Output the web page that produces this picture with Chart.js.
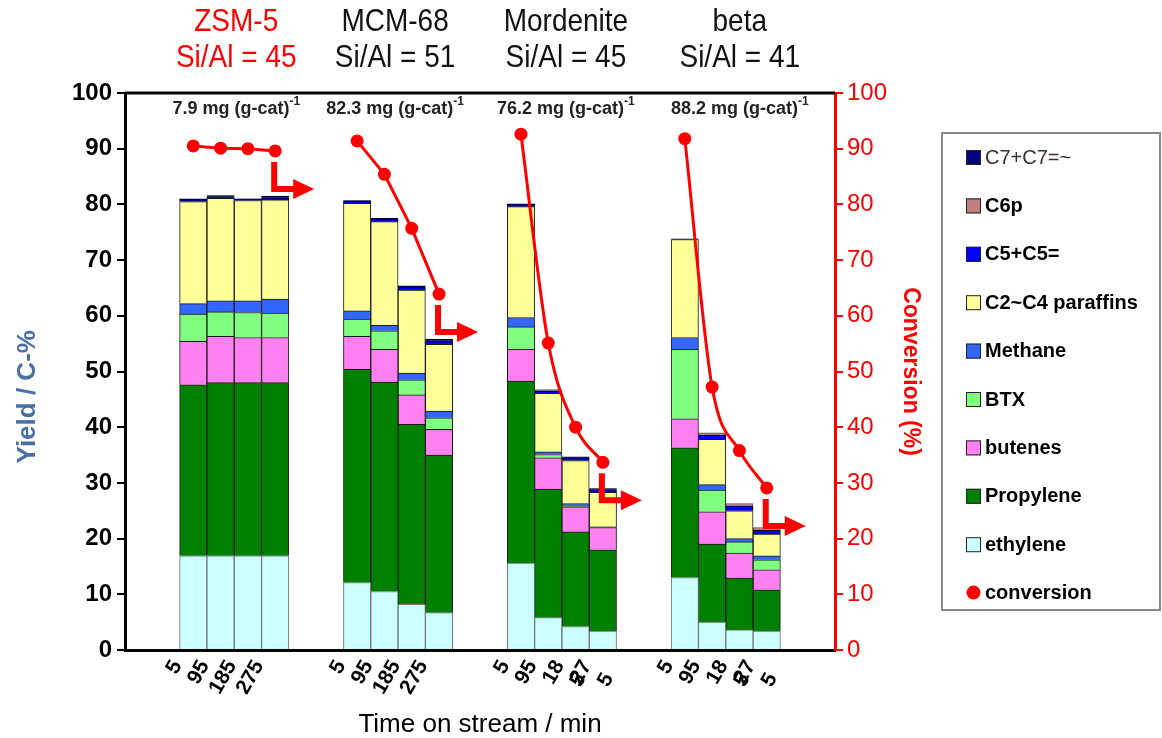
<!DOCTYPE html>
<html>
<head>
<meta charset="utf-8">
<title>Yield and conversion vs time on stream</title>
<script src="https://cdn.jsdelivr.net/npm/chart.js@4.4.0/dist/chart.umd.min.js"></script>
<style>
  html, body { margin: 0; padding: 0; background: #fff; }
</style>
</head>
<body>
<canvas id="chartYield" width="1162" height="738"></canvas>
<script>
const catalysts = ['ZSM-5', 'MCM-68', 'Mordenite', 'beta'];
const siAl = ['Si/Al = 45', 'Si/Al = 51', 'Si/Al = 45', 'Si/Al = 41'];
const coke = ['7.9', '82.3', '76.2', '88.2'];
const timeLabels = [
  ['5', '95', '185', '275'],
  ['5', '95', '185', '275'],
  ['5', '95', ['18', '5'], ['27', '5']],
  ['5', '95', ['18', '5'], ['27', '5']]
];

// yield of each product (C-%), 4 times on stream per catalyst: ZSM-5, MCM-68, Mordenite, beta
const ethylene  = [16.9, 16.9, 16.9, 16.9,  12.1, 10.5, 8.2, 6.7,   15.6, 5.8, 4.2, 3.4,    13.0, 5.0, 3.6, 3.4];
const propylene = [30.7, 31.1, 31.1, 31.1,  38.3, 37.6, 32.3, 28.3, 32.7, 23.1, 17.0, 14.6, 23.3, 14.0, 9.3, 7.4];
const butenes   = [7.8, 8.3, 8.1, 8.1,      5.9, 5.9, 5.3, 4.6,     5.7, 5.6, 4.5, 4.0,     5.2, 5.8, 4.5, 3.6];
const btx       = [4.9, 4.4, 4.5, 4.4,      3.1, 3.3, 2.7, 2.1,     4.0, 0.6, 0.1, 0,       12.5, 3.9, 2.0, 1.8];
const methane   = [1.9, 2.0, 2.1, 2.5,      1.5, 1.0, 1.2, 1.2,     1.7, 0.5, 0.5, 0.1,     2.1, 1.0, 0.6, 0.7];
const paraffins = [18.3, 18.4, 18.0, 17.8,  19.3, 18.6, 14.9, 12.0, 19.9, 10.5, 7.7, 6.2,   17.6, 8.1, 5.0, 3.9];
const c5        = [0.3, 0.3, 0.2, 0.4,      0.3, 0.4, 0.5, 0.6,     0.3, 0.4, 0.5, 0.5,     0, 0.8, 0.9, 0.7];
const c6p       = [0, 0, 0, 0,              0, 0, 0, 0,             0, 0.1, 0, 0,           0, 0.4, 0.4, 0.5];
const c7        = [0.2, 0.2, 0.1, 0.3,      0.2, 0.2, 0.3, 0.3,     0.2, 0.1, 0.2, 0.2,     0.1, 0, 0, 0];

// conversion (%), right axis
const conversion = [90.5, 90.1, 90.0, 89.6, 91.4, 85.4, 75.7, 63.9, 92.6, 55.1, 40.0, 33.7, 91.8, 47.2, 35.8, 29.1];

// category slots: two empty slots before each catalyst and after the last one
const labels = ['', ''];
const slotOf = [];
timeLabels.forEach(grp => {
  grp.forEach(t => { slotOf.push(labels.length); labels.push(t); });
  labels.push('', '');
});

function spread(values, groups) {
  const out = labels.map(() => null);
  values.forEach((v, i) => {
    const g = Math.floor(i / 4);
    if (groups && !groups.includes(g)) return;
    out[slotOf[i]] = v === 0 ? null : v;
  });
  return out;
}

const products = [
  { label: 'ethylene',        data: ethylene,  color: '#ccffff', edge: '#707070' },
  { label: 'Propylene',       data: propylene, color: '#008000', edge: '#1a1a1a' },
  { label: 'butenes',         data: butenes,   color: '#ff80f0', edge: '#1a1a1a' },
  { label: 'BTX',             data: btx,       color: '#80ff80', edge: '#1a1a1a' },
  { label: 'Methane',         data: methane,   color: '#3366ff', edge: '#1a1a1a' },
  { label: 'C2~C4 paraffins', data: paraffins, color: '#ffff99', edge: '#1a1a1a' },
  { label: 'C5+C5=',          data: c5,        color: '#0000ff', edge: '#000000' },
  { label: 'C6p',             data: c6p,       color: '#c08080', edge: '#555555' },
  { label: 'C7+C7=~',         data: c7,        color: '#000080', edge: '#000000' }
];

const barSets = products.map(p => ({
  type: 'bar',
  label: p.label,
  data: spread(p.data),
  backgroundColor: p.color,
  borderColor: p.edge,
  borderWidth: 1,
  stack: 'yield',
  yAxisID: 'y',
  order: 1,
  barPercentage: 1,
  categoryPercentage: 1
}));

const lineBase = {
  type: 'line',
  label: 'conversion',
  yAxisID: 'y2',
  borderColor: '#ff0000',
  backgroundColor: '#ff0000',
  borderWidth: 3,
  pointRadius: 6.5,
  pointBorderWidth: 0,
  order: 0
};
const lineStraight = Object.assign({}, lineBase, { data: spread(conversion, [0, 1]), tension: 0 });
const lineCurved = Object.assign({}, lineBase, { data: spread(conversion, [2, 3]), cubicInterpolationMode: 'monotone' });

const FONT = "'Liberation Sans', Arial, sans-serif";
Chart.defaults.font.family = FONT;

// header text, slightly stretched vertically
function tallText(ctx, text, x, y, sy) {
  ctx.save();
  ctx.translate(x, y);
  ctx.scale(1, sy);
  ctx.fillText(text, 0, 0);
  ctx.restore();
}

// headers, coke amounts, arrows and legend box
const decorations = {
  id: 'decorations',
  afterDraw(chart) {
    const ctx = chart.ctx;
    const area = chart.chartArea;
    const xs = chart.scales.x;
    const nudge = [2, -3, 4, 14];
    ctx.save();

    // top frame line
    ctx.strokeStyle = '#000';
    ctx.lineWidth = 3;
    ctx.beginPath();
    ctx.moveTo(area.left, area.top);
    ctx.lineTo(area.right, area.top);
    ctx.stroke();

    catalysts.forEach((name, g) => {
      const cx = (xs.getPixelForValue(slotOf[g * 4 + 1]) + xs.getPixelForValue(slotOf[g * 4 + 2])) / 2 + nudge[g];
      ctx.fillStyle = g === 0 ? '#ff0000' : '#111';
      ctx.font = '28px ' + FONT;
      ctx.textAlign = 'center';
      ctx.textBaseline = 'middle';
      tallText(ctx, name, cx, 22, 1.12);
      tallText(ctx, siAl[g], cx, 58, 1.12);

      // coke amount with superscript
      const main = coke[g] + ' mg (g-cat)';
      ctx.font = 'bold 18px ' + FONT;
      const w1 = ctx.measureText(main).width;
      ctx.font = 'bold 12px ' + FONT;
      const w2 = ctx.measureText('-1').width;
      const x0 = cx - (w1 + w2) / 2;
      ctx.fillStyle = '#222';
      ctx.textAlign = 'left';
      ctx.font = 'bold 18px ' + FONT;
      ctx.fillText(main, x0, 109);
      ctx.font = 'bold 12px ' + FONT;
      ctx.fillText('-1', x0 + w1, 102);

      // arrow pointing to the conversion axis
      const meta = chart.getDatasetMeta(g < 2 ? barSets.length : barSets.length + 1);
      const p = meta.data[slotOf[g * 4 + 3]];
      ctx.strokeStyle = '#ff0000';
      ctx.fillStyle = '#ff0000';
      ctx.lineWidth = 6;
      ctx.lineJoin = 'miter';
      ctx.beginPath();
      ctx.moveTo(p.x - 1, p.y + 11);
      ctx.lineTo(p.x - 1, p.y + 38);
      ctx.lineTo(p.x + 20, p.y + 38);
      ctx.stroke();
      ctx.beginPath();
      ctx.moveTo(p.x + 18, p.y + 28);
      ctx.lineTo(p.x + 39, p.y + 38);
      ctx.lineTo(p.x + 18, p.y + 48);
      ctx.closePath();
      ctx.fill();
    });

    // legend
    ctx.strokeStyle = '#8a8a8a';
    ctx.lineWidth = 2;
    ctx.strokeRect(942, 133, 218, 477);
    const items = products.slice().reverse();
    items.forEach((p, i) => {
      const y = 157 + i * 48.4;
      ctx.fillStyle = p.color;
      ctx.fillRect(966, y - 7, 15, 15);
      ctx.strokeStyle = '#222';
      ctx.lineWidth = 1;
      ctx.strokeRect(966.5, y - 6.5, 14, 14);
      ctx.fillStyle = i === 0 ? '#3a2f2a' : '#000';
      ctx.font = (i === 0 ? '' : 'bold ') + '20px ' + FONT;
      ctx.textAlign = 'left';
      ctx.textBaseline = 'middle';
      ctx.fillText(p.label, 985, y + 1);
    });
    const yc = 157 + items.length * 48.4;
    ctx.fillStyle = '#ff0000';
    ctx.beginPath();
    ctx.arc(973.5, yc, 7, 0, Math.PI * 2);
    ctx.fill();
    ctx.fillStyle = '#000';
    ctx.font = 'bold 20px ' + FONT;
    ctx.fillText('conversion', 985, yc + 1);

    ctx.restore();
  }
};

new Chart(document.getElementById('chartYield'), {
  data: {
    labels: labels,
    datasets: [...barSets, lineStraight, lineCurved]
  },
  options: {
    responsive: false,
    animation: false,
    layout: { padding: { top: 93, right: 227, bottom: 0, left: 0 } },
    plugins: {
      legend: { display: false },
      tooltip: { enabled: false }
    },
    scales: {
      x: {
        stacked: true,
        grid: { display: false, drawTicks: false },
        border: { display: true, color: '#000', width: 3 },
        ticks: {
          autoSkip: false,
          minRotation: 60,
          maxRotation: 60,
          labelOffset: -16,
          padding: 6,
          color: '#000',
          font: { size: 21, weight: 'bold' }
        },
        title: {
          display: true,
          text: 'Time on stream / min',
          color: '#000',
          font: { size: 26, lineHeight: 1 },
          padding: 0
        },
        afterFit(scale) { scale.height = 88; }
      },
      y: {
        stacked: true,
        min: 0,
        max: 100,
        ticks: { stepSize: 10, color: '#000', padding: 5, font: { size: 24, weight: 'bold' } },
        grid: { drawOnChartArea: false, drawTicks: true, tickLength: 8, color: '#000', lineWidth: 2 },
        border: { color: '#000', width: 3 },
        title: {
          display: true,
          text: 'Yield / C-%       ',
          color: '#4a6fa5',
          font: { size: 26, weight: 'bold', lineHeight: 1.2 },
          padding: { top: 12 }
        },
        afterFit(scale) { scale.width = 125; }
      },
      y2: {
        position: 'right',
        min: 0,
        max: 100,
        ticks: { stepSize: 10, color: '#ff0000', padding: 4, font: { size: 24 } },
        grid: { drawOnChartArea: false, drawTicks: true, tickLength: 8, color: '#ff0000', lineWidth: 2 },
        border: { color: '#ff0000', width: 3 },
        title: {
          display: true,
          text: 'Conversion (%)',
          color: '#ff0000',
          font: { size: 23, weight: 'bold', lineHeight: 1.2 },
          padding: { top: 11 }
        },
        afterFit(scale) { scale.width = 100; }
      }
    }
  },
  plugins: [decorations]
});
</script>
</body>
</html>
